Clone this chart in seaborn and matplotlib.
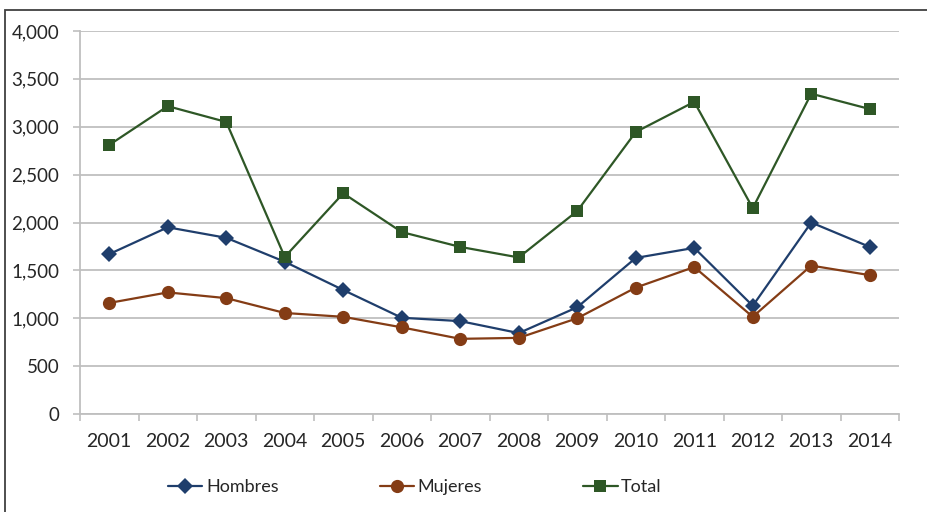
import matplotlib
matplotlib.use("Agg")
import matplotlib.pyplot as plt
import seaborn as sns
import pandas as pd
import numpy as np
from matplotlib.patches import Rectangle
from matplotlib.lines import Line2D
from matplotlib.ticker import FuncFormatter, MultipleLocator

years = ["2001", "2002", "2003", "2004", "2005", "2006", "2007",
         "2008", "2009", "2010", "2011", "2012", "2013", "2014"]
hombres = [1670, 1950, 1840, 1590, 1295, 1005, 970, 845, 1115, 1630, 1735, 1130, 2000, 1745]
mujeres = [1160, 1270, 1210, 1055, 1015, 905, 785, 795, 1000, 1320, 1535, 1015, 1550, 1450]
total = [2810, 3215, 3050, 1640, 2305, 1900, 1745, 1635, 2120, 2945, 3260, 2150, 3345, 3185]
series_names = ["Hombres", "Mujeres", "Total"]
colors = ["#1F3E6C", "#843C15", "#2E5726"]
markers = ["D", "o", "s"]

rows = []
for name, vals in zip(series_names, [hombres, mujeres, total]):
    for i, (y, v) in enumerate(zip(years, vals)):
        rows.append({"idx": i, "year": y, "value": v, "serie": name})
df = pd.DataFrame(rows)

sns.set_theme(style="white")
plt.rcParams["font.family"] = ["Lato", "DejaVu Sans"]

fig = plt.figure(figsize=(9.27, 5.12), dpi=100)
ax = fig.add_axes([80/927, 98/512, 819/927, 383/512])

sns.lineplot(data=df, x="idx", y="value", hue="serie", style="serie",
             palette=dict(zip(series_names, colors)),
             markers=dict(zip(series_names, markers)),
             dashes=False, linewidth=1.6, markersize=9, markeredgewidth=0,
             ax=ax, legend=False)

msizes = [8, 9.5, 9]
for line, ms in zip(ax.get_lines(), msizes):
    line.set_markersize(ms)

ax.set_xlim(-0.5, len(years) - 0.5)
ax.set_ylim(0, 4000)
ax.yaxis.set_major_locator(MultipleLocator(500))
ax.yaxis.set_major_formatter(FuncFormatter(lambda v, p: f"{int(v):,}"))
ax.grid(axis="y", color="#BFBFBF", linewidth=1.3)
ax.grid(axis="x", visible=False)
ax.set_axisbelow(True)

ax.set_xticks(np.arange(-0.5, len(years), 1.0))
ax.set_xticklabels([])
ax.set_xticks(np.arange(len(years)), minor=True)
ax.set_xticklabels(years, minor=True)
ax.tick_params(axis="x", which="major", length=5, width=1.2, color="#BFBFBF", direction="out", bottom=True)
ax.tick_params(axis="x", which="minor", length=0, pad=14, labelsize=14, labelcolor="#262626")
ax.tick_params(axis="y", which="major", length=5, width=1.2, color="#BFBFBF", direction="out",
               left=True, pad=10, labelsize=13.5, labelcolor="#262626")

for s in ["top", "right"]:
    ax.spines[s].set_visible(False)
for s in ["left", "bottom"]:
    ax.spines[s].set_color("#BFBFBF")
    ax.spines[s].set_linewidth(1.3)
ax.set_xlabel("")
ax.set_ylabel("")

handles = [Line2D([0], [0], color=c, marker=m, linewidth=1.6, markersize=ms, markeredgewidth=0)
           for c, m, ms in zip(colors, markers, msizes)]
fig.legend(handles, series_names, loc="center", bbox_to_anchor=(415/927, 0.049), ncol=3,
           frameon=False, fontsize=13, handlelength=1.9, handletextpad=0.2,
           columnspacing=5.6, labelcolor="#262626")

fig.patches.append(Rectangle((5/927, -0.05), 1.2, (502/512) + 0.05, transform=fig.transFigure,
                             fill=False, edgecolor="#404040", linewidth=1.3, zorder=-1))

fig.savefig("out.png", dpi=100)
